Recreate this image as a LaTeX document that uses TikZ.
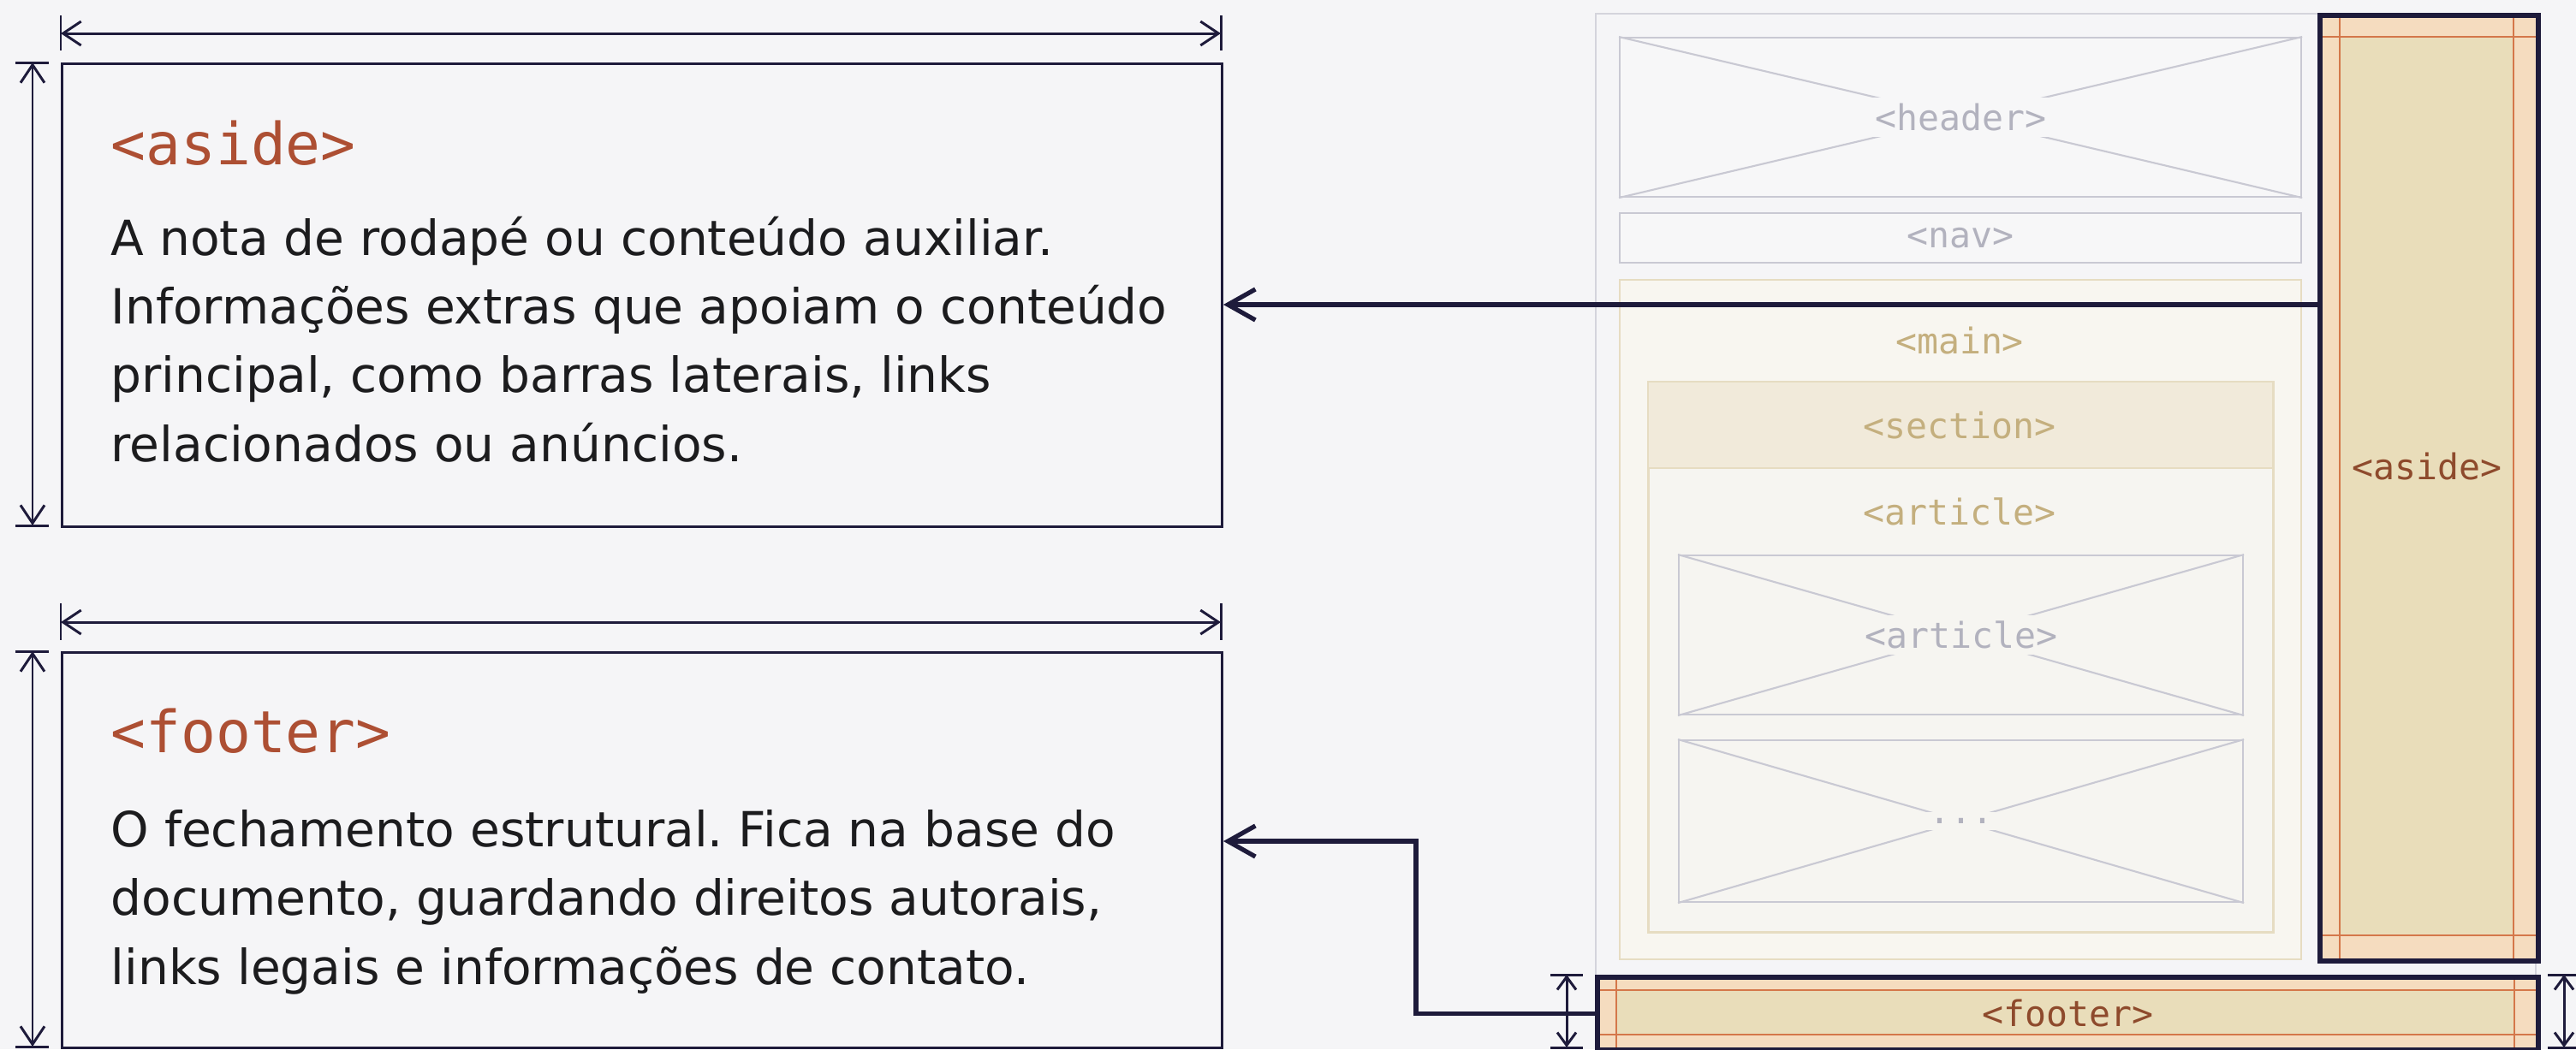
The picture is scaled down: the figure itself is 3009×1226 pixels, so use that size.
\documentclass[tikz,border=0pt]{standalone}
\usepackage{fontspec}
\setmainfont{DejaVu Sans}
\setmonofont{DejaVu Sans Mono}
\usepackage{tikz}
\usetikzlibrary{arrows.meta}
\frenchspacing
\definecolor{ink}{HTML}{1E1B3B}
\definecolor{paper}{HTML}{F5F5F7}
\definecolor{txt}{HTML}{1C1C1E}
\definecolor{accent}{HTML}{AD4F33}
\definecolor{wiregray}{HTML}{C9C9D3}
\definecolor{wiretext}{HTML}{B2B2BE}
\definecolor{wirefill}{HTML}{F7F7F8}
\definecolor{framegray}{HTML}{D4D4DC}
\definecolor{tanline}{HTML}{E6DCC2}
\definecolor{tanfill}{HTML}{F8F6F0}
\definecolor{tantext}{HTML}{C4AF7E}
\definecolor{bandfill}{HTML}{F1EADA}
\definecolor{artfill}{HTML}{F6F5F1}
\definecolor{peach}{HTML}{F5DCBF}
\definecolor{content}{HTML}{E9DDBA}
\definecolor{padline}{HTML}{D4774A}
\definecolor{elemtext}{HTML}{8E4A2C}
\tikzset{
    box/.style={draw=ink, line width=0.85pt, inner sep=0pt, anchor=north west}, % 左侧说明框
    tagname/.style={anchor=base west, inner sep=0pt, text=accent, font=\ttfamily\fontsize{19.3pt}{23pt}\selectfont}, % 标签名
    desc/.style={anchor=base west, inner sep=0pt, align=left, text=txt, font=\fontsize{16.1pt}{22.76pt}\selectfont}, % 说明文字（base = 最后一行）
    dim/.style={ink, line width=0.85pt, {Straight Barb[length=2.1mm, width=2.8mm]}-{Straight Barb[length=2.1mm, width=2.8mm]}}, % 尺寸线
    sdim/.style={ink, line width=0.85pt, {Straight Barb[length=1.5mm, width=2.2mm]}-{Straight Barb[length=1.5mm, width=2.2mm]}}, % 小尺寸线
    dimend/.style={ink, line width=0.85pt}, % 尺寸线两端
    conn/.style={ink, line width=1.5pt, -{Straight Barb[length=3.2mm, width=3.6mm]}}, % 连接箭头
    wire/.style={draw=wiregray, line width=0.6pt, fill=wirefill, inner sep=0pt, anchor=north west}, % 线框块
    tanbox/.style={draw=tanline, line width=0.6pt, fill=tanfill, inner sep=0pt, anchor=north west}, % main / section
    taglabel/.style={inner sep=2pt, font=\ttfamily\fontsize{11.8pt}{14pt}\selectfont}, % 线框中的标签
    elem/.style={draw=ink, line width=1.7pt, inner sep=0pt, anchor=north west}, % 高亮元素
    pad/.style={padline, line width=0.5pt} % 内边距线
}

\begin{document}
\begin{tikzpicture}[x=0.01cm, y=-0.01cm]
    \def\pxu{0.01cm}
    \useasboundingbox (0,0) rectangle (3009,1226);
    \fill[paper] (0,0) rectangle (3009,1226);

    % 左侧说明 <aside>
    \node[box, minimum width=1355*\pxu, minimum height=541*\pxu] (asidebox) at (71,73) {};
    \draw[dim] (71,39) -- (1426,39);
    \draw[dim] (38,73) -- (38,614);
    \foreach \x in {71,1426} {\draw[dimend] (\x,18) -- (\x,59);}
    \foreach \y in {73,614} {\draw[dimend] (18,\y) -- (57,\y);}
    \node[tagname] (asidetitle) at (129,192) {<aside>};
    \node[desc] (asidetext) at (129,539) {A nota de rodapé ou conteúdo auxiliar.\\Informações extras que apoiam o conteúdo\\principal, como barras laterais, links\\relacionados ou anúncios.};

    % 左侧说明 <footer>
    \node[box, minimum width=1355*\pxu, minimum height=462*\pxu] (footerbox) at (71,761) {};
    \draw[dim] (71,727) -- (1426,727);
    \draw[dim] (38,761) -- (38,1223);
    \foreach \x in {71,1426} {\draw[dimend] (\x,705) -- (\x,748);}
    \foreach \y in {761,1223} {\draw[dimend] (18,\y) -- (57,\y);}
    \node[tagname] (footertitle) at (129,879) {<footer>};
    \node[desc] (footertext) at (129,1150) {O fechamento estrutural. Fica na base do\\documento, guardando direitos autorais,\\links legais e informações de contato.};

    % 右侧页面线框
    \draw[framegray, line width=0.6pt] (1864,16) rectangle (2962,1260);
    \node[wire, minimum width=796*\pxu, minimum height=186*\pxu] (header) at (1891,43) {};
    \draw[wiregray, line width=0.6pt] (header.north west) -- (header.south east) (header.north east) -- (header.south west);
    \node[taglabel, text=wiretext, fill=wirefill] (headertag) at (header.center) {<header>};
    \node[wire, minimum width=796*\pxu, minimum height=58*\pxu] (nav) at (1891,248) {};
    \node[taglabel, text=wiretext] (navtag) at (nav.center) {<nav>};

    \node[tanbox, minimum width=796*\pxu, minimum height=794*\pxu] (main) at (1891,326) {};
    \node[taglabel, text=tantext] (maintag) at (2289,398) {<main>};
    \node[tanbox, fill=artfill, minimum width=729*\pxu, minimum height=642*\pxu] (section) at (1925,446) {};
    \fill[bandfill] (1925,446) rectangle (2654,547);
    \draw[tanline, line width=0.6pt] (section.north west) rectangle (section.south east) (1925,547) -- (2654,547);
    \node[taglabel, text=tantext] (sectiontag) at (2289,497) {<section>};
    \node[taglabel, text=tantext] (articletag) at (2289,598) {<article>};

    \foreach \n/\y/\h/\t in {art1/648/186/{<article>}, art2/864/189/{...}} {
        \node[wire, fill=artfill, minimum width=659*\pxu, minimum height=\h*\pxu] (\n) at (1960,\y) {};
        \draw[wiregray, line width=0.6pt] (\n.north west) -- (\n.south east) (\n.north east) -- (\n.south west);
        \node[taglabel, text=wiretext, fill=artfill] (\n tag) at (\n.center) {\t};
    }

    % 高亮 <aside>
    \fill[peach] (2707,15) rectangle (2962,1120);
    \fill[content] (2733,43) rectangle (2936,1093);
    \draw[pad] (2733,15) -- (2733,1120) (2936,15) -- (2936,1120) (2707,43) -- (2962,43) (2707,1093) -- (2962,1093);
    \node[elem, minimum width=255*\pxu, minimum height=1105*\pxu] (asideel) at (2707,15) {};
    \node[taglabel, text=elemtext] (asideeltag) at (2835,545) {<aside>};

    % 高亮 <footer>
    \fill[peach] (1863,1139) rectangle (2962,1224);
    \fill[content] (1888,1157) rectangle (2937,1209);
    \draw[pad] (1863,1157) -- (2962,1157) (1863,1209) -- (2962,1209) (1888,1139) -- (1888,1224) (2937,1139) -- (2937,1224);
    \node[elem, minimum width=1099*\pxu, minimum height=85*\pxu] (footerel) at (1863,1139) {};
    \node[taglabel, text=elemtext] (footereltag) at (footerel.center) {<footer>};
    \draw[sdim] (1830,1139) -- (1830,1224);
    \draw[sdim] (2995,1139) -- (2995,1224);
    \foreach \x in {1830,2995} {\draw[dimend] (\x-19,1139) -- (\x+19,1139) (\x-19,1224) -- (\x+19,1224);}

    % 连接箭头
    \coordinate (fbend) at (1654,983);
    \draw[conn] (asideel.west |- 0,356) -- (asidebox.east |- 0,356);
    \draw[conn] (footerel.west) -| (fbend) -- (footerbox.east |- fbend);
\end{tikzpicture}
\end{document}
